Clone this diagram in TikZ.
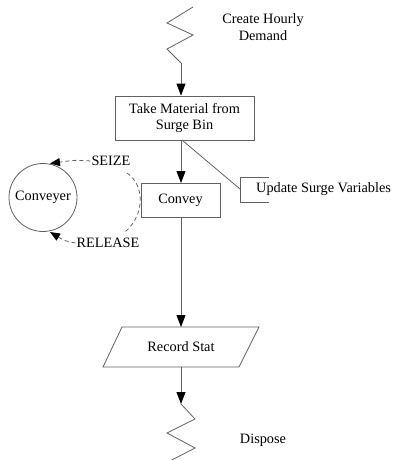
\documentclass[tikz,border=0pt]{standalone}
\usepackage{fontspec}
\setmainfont{Liberation Serif}
\usetikzlibrary{arrows.meta}
\begin{document}
\begin{tikzpicture}[x=1pt,y=-1pt,
  font=\fontsize{14.3}{16.5}\selectfont,
  line/.style={draw=black!62, line width=0.8pt},
  flow/.style={line, -{Triangle[length=12pt,width=9pt,fill=black,color=black]}},
  dashflow/.style={line, dash pattern=on 4pt off 3pt, -{Triangle[length=10pt,width=8pt,fill=black,color=black]}},
  dashline/.style={line, dash pattern=on 4pt off 3pt},
  blockbox/.style={line, fill=white, align=center, inner sep=0pt},
  label/.style={align=center, inner sep=1pt}]
\useasboundingbox (0,0) rectangle (392,460);

% create module: zigzag source
\coordinate (zs) at (181,63);
\draw[line] (193,7) -- (167,23) -- (193,35) -- (167,49) -- (zs);
\node[label] (create) at (263,27) {Create Hourly\\Demand};

% take material block
\node[blockbox, minimum width=139pt, minimum height=44pt] (take) at (184.5,118) {Take Material from\\Surge Bin};
\draw[flow] (zs) -- (zs |- take.north);

% assign module for surge variables
\coordinate (ua) at (269,177);
\coordinate (ub) at (240,177);
\coordinate (uc) at (240,202);
\coordinate (ud) at (269,202);
\coordinate (um) at (240,189);
\draw[line] (ua) -- (ub) -- (uc) -- (ud);
\node[anchor=west, inner sep=0pt] (upd) at (256,189) {Update Surge Variables};
\coordinate (tb) at (182,140);
\draw[line] (tb) -- (um);

% convey block
\node[blockbox, minimum width=79pt, minimum height=34pt] (convey) at (180.5,200) {Convey};
\draw[flow] (181,140) -- (181,183);

% conveyer resource with seize / release links
\node[draw=black!62, line width=0.8pt, circle, minimum size=68pt, inner sep=0pt] (res) at (43,197.5) {Conveyer};
\node[label] (seize) at (111,161) {SEIZE};
\node[label] (release) at (108,243) {RELEASE};
\coordinate (sa) at (127,173);
\coordinate (ra) at (125,232);
\draw[dashline] (sa) .. controls (145,185) and (145,215) .. (ra);
\draw[dashflow] (seize.west) .. controls (75,160) .. (50,163.5);
\draw[dashflow] (release.west) .. controls (65,241) .. (50,232);

% record stat parallelogram
\coordinate (p1) at (122,327);
\coordinate (p2) at (259,327);
\coordinate (p3) at (239,367);
\coordinate (p4) at (103,367);
\draw[line] (p1) -- (p2) -- (p3) -- (p4) -- cycle;
\node[label] (rec) at (181,347) {Record Stat};
\draw[flow] (181,217) -- (181,327);

% dispose module: zigzag sink
\coordinate (zd) at (181,404);
\draw[flow] (181,367) -- (zd);
\draw[line] (zd) -- (195,419) -- (167,433) -- (195,448) -- (170,461);
\node[label] (dispose) at (263,440) {Dispose};
\end{tikzpicture}
\end{document}
